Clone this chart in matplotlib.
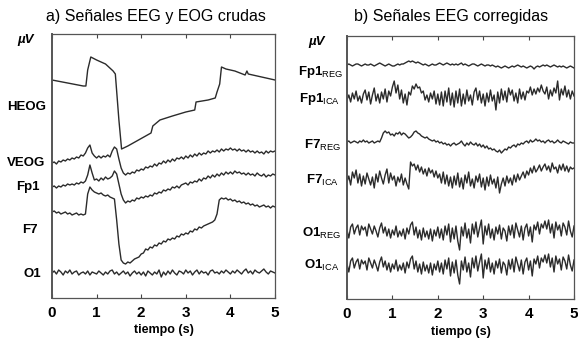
import numpy as np
import matplotlib
matplotlib.use("Agg")
import matplotlib.pyplot as plt

plt.rcParams['font.family'] = ['Liberation Sans', 'DejaVu Sans']
plt.rcParams['mathtext.fontset'] = 'custom'
plt.rcParams['mathtext.rm'] = 'Liberation Sans'
plt.rcParams['mathtext.bf'] = 'Liberation Sans:bold'

# ---- data (µV, channel offsets kept apart below) ----
t_left = np.arange(101) * 0.05
t_right = np.arange(126) * 0.04

heog_t = [0, 0.35, 0.70, 0.76, 0.80, 0.87, 1.0, 1.2, 1.37, 1.42,
          1.50, 1.56, 1.7, 1.9, 2.1, 2.22, 2.26, 2.42, 2.7, 3.0,
          3.2, 3.23, 3.5, 3.66, 3.70, 3.76, 3.80, 3.9, 4.1, 4.33,
          4.37, 4.40, 4.7, 5.0]
heog = [0, -3, -6, -6, 10, 23, 20, 16, 9, 6,
        -40, -69, -66, -61, -56, -53, -46, -40, -36, -32,
        -30, -22, -20, -18, -12, -4, 13, 11, 9, 5,
        9, 6, 3, 0]

veog = [0, 1, -1, 2, 1, 3, 2, 4, 3, 5,
        4, 6, 5, 8, 7, 10, 15, 18, 10, 7,
        5, 7, 5, 7, 6, 8, 6, 12, 16, 14,
        4, -5, -10, -12, -10, -11, -9, -10, -7, -8,
        -6, -7, -4, -5, -3, -4, -1, -3, 0, -1,
        2, 0, 3, 1, 4, 2, 5, 4, 6, 4,
        7, 5, 8, 6, 9, 7, 10, 8, 10, 9,
        12, 10, 12, 11, 13, 11, 14, 12, 14, 13,
        15, 13, 14, 12, 14, 12, 13, 11, 13, 11,
        12, 10, 12, 10, 11, 9, 12, 10, 12, 11, 12]

fp1 = [0, 1, -1, 1, 0, 2, 1, 3, 2, 3,
       2, 4, 3, 5, 4, 6, 12, 22, 14, 7,
       8, 6, 9, 7, 10, 8, 9, 11, 16, 13,
       3, -7, -13, -16, -14, -15, -13, -14, -11, -12,
       -10, -11, -9, -10, -8, -9, -6, -7, -5, -6,
       -3, -4, -2, -3, 0, -1, 1, -1, 2, 3,
       4, 2, 5, 4, 6, 5, 8, 6, 9, 8,
       11, 9, 12, 10, 13, 11, 14, 12, 15, 13,
       15, 13, 16, 14, 15, 13, 14, 12, 14, 12,
       13, 11, 14, 12, 11, 13, 10, 12, 11, 13, 12]

f7 = [0, 1, -1, 0, -2, -1, 0, -2, -1, -3,
      -2, -1, -3, -2, -3, -2, 18, 25, 22, 20,
      19, 18, 19, 17, 16, 17, 15, 14, 13, -8,
      -32, -48, -51, -52, -50, -51, -49, -47, -46, -45,
      -42, -41, -37, -38, -35, -36, -33, -34, -31, -32,
      -29, -30, -27, -28, -26, -27, -24, -25, -22, -23,
      -21, -22, -19, -20, -17, -18, -15, -16, -14, -13,
      -12, -11, -10, -8, -2, 12, 14, 13, 14, 12,
      13, 11, 12, 10, 11, 9, 10, 8, 9, 7,
      8, 6, 7, 5, 6, 7, 5, 6, 4, 6, 5]

o1 = [0, 2, -1, 3, 1, -2, 2, 0, 3, -1,
      1, 2, -2, 0, 1, -1, 2, -2, 1, 0,
      -1, 2, 0, -2, 1, -1, 2, 3, -1, 1,
      -2, 0, 2, -1, 1, -3, 0, 2, -1, 1,
      -2, 1, -3, 2, 0, -2, 1, -1, 3, -4,
      1, -2, 2, -1, 3, 0, -2, 2, 1, -1,
      3, 0, 2, -2, 1, 3, -1, 2, 0, 1,
      -2, 2, 3, 0, 1, -1, 2, 0, 3, 1,
      -1, 2, 0, 3, 1, -1, 2, 4, 0, 2,
      -1, 3, 1, 0, 2, 4, 1, -1, 2, 1, 0]

fp1_reg = [0, 1, 0, -1, 0, 1, 1, 0, -1, 0,
           1, 0, 0, 1, 0, -1, 0, 1, 2, 1,
           0, -1, 0, 1, 0, -1, -1, 0, 1, 0,
           1, 1, 2, 3, 4, 3, 4, 3, 2, 3,
           2, 1, 0, 1, 0, -1, 0, 1, 0, 0,
           1, 2, 1, 0, 1, 2, 1, 0, 1, 0,
           1, 0, 1, 2, 0, 1, 0, -1, 0, 1,
           1, 0, -1, 0, 1, 0, -1, 0, 0, -1,
           0, -1, -2, -1, -2, -3, -2, -1, -2, -3,
           -2, -1, -2, -1, 0, -1, -2, -1, -2, -3,
           -2, -1, -2, -4, -2, -1, -2, -1, 0, -1,
           0, -1, -2, -1, 0, -1, -2, -1, -2, -1,
           -2, -3, -2, -1, -2, -3]

fp1_ica = [-3, 2, -5, 4, -2, 6, -4, 1, -6, 3,
           7, -3, 5, -7, 2, 9, -4, 3, -6, 5,
           -2, 8, -5, 6, 1, 10, 16, 4, 12, -2,
           7, -6, 3, -8, 5, 2, 11, 8, 13, 9,
           10, 4, 6, -3, 2, -5, 4, -2, 6, -7,
           3, -8, 5, -9, 6, -5, 9, -8, 4, -10,
           6, -6, 8, -9, 3, -7, 7, -4, 2, -8,
           5, 9, -3, 6, -6, 3, -9, 4, -5, 7,
           -4, 2, -13, 5, -6, 8, -3, 6, -5, 9,
           2, 7, -4, 4, -6, 8, -2, 5, -3, 6,
           4, 10, 2, 8, 3, 9, 5, 12, 6, 3,
           10, -2, 7, 1, 9, 4, 16, -3, 8, 2,
           11, 0, 7, -2, 6, 1]

f7_reg = [0, 1, -1, 0, 1, 0, -1, 1, 0, 2,
          0, 1, -1, 0, 1, -1, 0, 1, 0, 4,
          9, 11, 9, 10, 7, 8, 6, 9, 8, 10,
          7, 9, 8, 6, 4, 5, 7, 10, 11, 9,
          8, 6, 5, 4, 5, 3, 2, 1, 2, 0,
          1, -1, 0, -2, -1, -3, -2, -4, -2, -1,
          -3, -2, -1, 1, -2, -4, -1, -3, 0, -2,
          -3, -1, -4, -2, -5, -3, -6, -4, -7, -6,
          -8, -7, -9, -10, -8, -11, -9, -7, -8, -5,
          -6, -4, -3, -5, -2, -3, -1, -2, 0, 1,
          -1, 2, 0, 1, 3, 1, 2, 0, 1, -1,
          1, 2, 0, 1, -1, 0, 2, 0, -1, 1,
          0, -1, -2, 0, -1, -1]

f7_ica = [-2, 4, -5, 8, 2, 10, -3, 6, -6, 4,
          -4, 7, 1, -5, 3, -8, 6, -2, 9, 2,
          -4, 5, 11, -3, 7, 0, 4, -6, 3, -2,
          6, -5, 2, -4, -9, 18, 14, 16, 10, 15,
          8, 13, 6, 11, 4, 12, 7, 10, 3, 9,
          2, 6, -3, 8, -4, 5, -6, 3, -8, 4,
          -5, 7, -7, 2, -9, 5, -3, 8, -6, 1,
          -8, 4, -2, 6, -7, 2, -10, 3, -6, 5,
          -4, 1, -8, 3, -13, -4, 2, -6, 4, -3,
          2, -5, 5, -2, 6, 0, 4, 8, 2, 9,
          5, 12, 7, 14, 8, 11, 15, 9, 13, 16,
          10, 14, 8, 17, 11, 13, 7, 15, 10, 16,
          9, 14, 8, 13, 11, 12]

o1_reg = [2, -6, 5, 8, -2, 4, 7, -3, 6, 2,
          5, -4, 8, 3, -2, 6, 1, -5, 4, 9,
          -1, 5, -4, 3, -6, 2, -3, 6, -5, 1,
          -4, 3, -7, 4, -2, 7, 10, -3, 5, -6,
          2, -8, 4, -5, 1, -7, 3, -9, 2, -4,
          5, -6, 3, -8, 6, -3, 8, -10, 4, -7,
          6, -9, -18, 5, -4, 9, -6, 3, -11, 8,
          -2, 10, -5, 4, 12, -12, 6, -3, 8, -6,
          3, -8, 5, -2, 7, -7, 4, 1, -9, 6,
          -3, 7, -6, 9, 2, -5, 6, -8, 4, 8,
          -4, 5, -10, 7, 2, 10, -2, 8, 4, 11,
          3, 12, -1, 8, -6, 10, 2, 7, -4, 9,
          5, -3, 11, 1, -5, 6]
# O1 is nearly untouched by both corrections
o1_ica = list(o1_reg)

# ---- layout: channel baselines and label placement ----
left_offsets = [218, 135, 111, 86, 25]        # HEOG, VEOG, Fp1, F7, O1
right_offsets = [234, 202, 157, 119, 67, 33]  # Fp1 reg/ica, F7 reg/ica, O1 reg/ica

W, H = 578, 338
fig = plt.figure(figsize=(W / 100, H / 100), dpi=100)
ax1 = fig.add_axes([52 / W, 1 - 298 / H, 223 / W, 264 / H])
ax2 = fig.add_axes([347 / W, 1 - 299 / H, 227 / W, 263 / H])

col = '#2b2b2b'
ax1.plot(heog_t, np.array(heog) + left_offsets[0], color=col, lw=1)
for vals, off in zip([veog, fp1, f7, o1], left_offsets[1:]):
    ax1.plot(t_left, np.array(vals) + off, color=col, lw=1)
for vals, off in zip([fp1_reg, fp1_ica, f7_reg, f7_ica, o1_reg, o1_ica], right_offsets):
    ax2.plot(t_right, np.array(vals) + off, color=col, lw=1)

for ax, top in [(ax1, 264), (ax2, 263)]:
    ax.set_xlim(0, 5)
    ax.set_ylim(0, top)
    ax.set_yticks([])
    ax.set_xticks(range(6))
    ax.tick_params(axis='x', direction='in', length=3, top=True, width=0.8,
                   labelsize=11, pad=6, color='#444444')
    for lab in ax.get_xticklabels():
        lab.set_fontweight('bold')
    for s in ax.spines.values():
        s.set_color('#555555')
        s.set_linewidth(0.9)
    ax.spines['left'].set_linewidth(1.4)
    ax.set_xlabel('tiempo (s)', fontsize=9, fontweight='bold', labelpad=3)


def lab(x, y, s, size=9.5, **kw):
    fig.text(x / W, 1 - y / H, s, ha='center', va='center', fontsize=size,
             fontweight='bold', **kw)


fig.text(156 / W, 1 - 17 / H, 'a) Señales EEG y EOG crudas', ha='center', va='center',
         fontsize=11.5)
fig.text(451 / W, 1 - 17 / H, 'b) Señales EEG corregidas', ha='center', va='center',
         fontsize=11.5)

lab(26, 40, 'µV', style='italic')
lab(317, 42, 'µV', style='italic')
for x, y, s in [(27, 107, 'HEOG'), (26, 163, 'VEOG'), (28, 187, 'Fp1'),
                (30, 230, 'F7'), (32, 274, 'O1')]:
    lab(x, y, s)
for x, y, s in [(321, 72, r'Fp1$_{\mathrm{REG}}$'), (320, 99, r'Fp1$_{\mathrm{ICA}}$'),
                (323, 145, r'F7$_{\mathrm{REG}}$'), (323, 180, r'F7$_{\mathrm{ICA}}$'),
                (322, 233, r'O1$_{\mathrm{REG}}$'), (322, 265, r'O1$_{\mathrm{ICA}}$')]:
    lab(x, y, s)

fig.savefig('out.png', dpi=100)
